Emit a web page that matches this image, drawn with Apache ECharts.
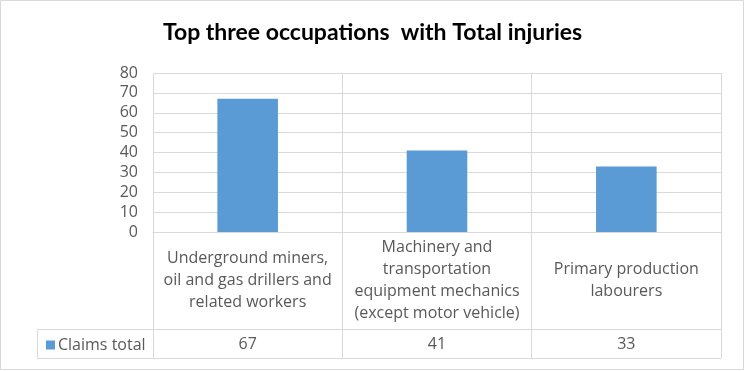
<!DOCTYPE html>
<html><head><meta charset="utf-8">
<script src="https://cdn.jsdelivr.net/npm/echarts@6/dist/echarts.min.js"></script>
<style>html,body{margin:0;padding:0;background:#fff}#c{width:745px;height:371px}</style>
</head><body><div id="c"></div>
<script>
const title = 'Top three occupations  with Total injuries';
const categories = ['Underground miners,\noil and gas drillers and\nrelated workers', 'Machinery and\ntransportation\nequipment mechanics\n(except motor vehicle)', 'Primary production\nlabourers'];
const seriesName = 'Claims total';
const claims = [67, 41, 33];
const yTicks = [0, 10, 20, 30, 40, 50, 60, 70, 80];

const FONT = 'Open Sans';
const FS = 16;
const GRAY = '#595959';
const LINE = '#d9d9d9';
const chart = echarts.init(document.getElementById('c'));
const gl = 153, gr = 24, gt = 73, gb = 139;
chart.setOption({
  animation: false,
  title: { text: title, left: 'center', top: 16, textStyle: { fontFamily: 'Lato', fontSize: 23, fontWeight: 'bold', color: '#000' } },
  legend: { data: [seriesName], left: 41, top: 332, icon: 'rect', itemWidth: 9, itemHeight: 9, itemGap: 4,
    textStyle: { fontFamily: FONT, fontSize: FS, color: GRAY, padding: [0,0,0,-2] } },
  grid: { left: gl, right: gr, top: gt, bottom: gb },
  xAxis: [{
    type: 'category', data: categories,
    axisLine: { lineStyle: { color: LINE } },
    axisTick: { show: true, length: 126, lineStyle: { color: LINE } },
    axisLabel: { fontFamily: FONT, fontSize: FS, color: GRAY, lineHeight: 22, verticalAlign: 'middle', margin: 48, interval: 0 },
    splitLine: { show: true, lineStyle: { color: LINE } }
  }, {
    type: 'category', data: claims.map(String), position: 'bottom', offset: 112,
    axisLine: { show: false }, axisTick: { show: false },
    axisLabel: { fontFamily: FONT, fontSize: FS, color: GRAY, verticalAlign: 'middle', margin: 0, interval: 0 }
  }],
  yAxis: {
    type: 'value', min: 0, max: 80, interval: 10,
    axisLine: { show: false }, axisTick: { show: false },
    axisLabel: { fontFamily: FONT, fontSize: FS, color: GRAY, margin: 15, formatter: v => yTicks.includes(v) ? String(v) : '' },
    splitLine: { lineStyle: { color: LINE } }
  },
  series: [{ name: seriesName, type: 'bar', data: claims, barWidth: '32%', itemStyle: { color: '#5b9bd5' } }],
  graphic: []
});
const x1 = 745 - gr, yAxisBase = 371 - gb;
const rowTop = yAxisBase + 97, rowBot = yAxisBase + 126, tblLeft = 37;
chart.setOption({ graphic: [
  { type: 'rect', shape: { x: 0.5, y: 0.5, width: 743, height: 369 }, style: { fill: 'none', stroke: LINE, lineWidth: 1 }, silent: true },
  { type: 'line', shape: { x1: tblLeft, y1: rowTop + 0.5, x2: x1, y2: rowTop + 0.5 }, style: { stroke: LINE, lineWidth: 1 } },
  { type: 'line', shape: { x1: tblLeft, y1: rowBot + 0.5, x2: x1, y2: rowBot + 0.5 }, style: { stroke: LINE, lineWidth: 1 } },
  { type: 'line', shape: { x1: tblLeft + 0.5, y1: rowTop, x2: tblLeft + 0.5, y2: rowBot + 1 }, style: { stroke: LINE, lineWidth: 1 } }
]});
</script></body></html>
